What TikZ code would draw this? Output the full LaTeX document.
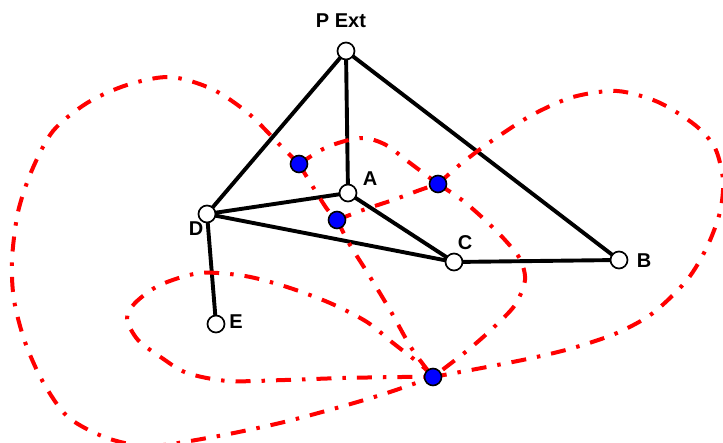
\documentclass[tikz,border=0pt]{standalone}
\usepackage{fontspec}
\setmainfont{Liberation Sans}
\pgfdeclarelayer{bg}
\pgfsetlayers{bg,main}
\begin{document}
\begin{tikzpicture}[x=1pt,y=-1pt,
  vtx/.style={circle,draw=black,fill=white,line width=1.7pt,minimum size=17pt,inner sep=0pt},
  dualv/.style={circle,draw=black,fill=blue,line width=1.6pt,minimum size=17pt,inner sep=0pt},
  lab/.style={font=\bfseries\fontsize{20}{22}\selectfont,inner sep=0pt},
  edge/.style={line width=3.9pt,black},
  dual/.style={line width=4pt,red,dash pattern=on 15pt off 11pt on 3.5pt off 11pt}]
\useasboundingbox (0,0) rectangle (723,443);

% primal vertices
\node[vtx] (P) at (346,51) {};
\node[vtx] (A) at (348,193) {};
\node[vtx] (D) at (207,214) {};
\node[vtx] (C) at (454,262) {};
\node[vtx] (B) at (619,260) {};
\node[vtx] (E) at (216,324) {};

% labels
\node[lab] (lP) at (341,21) {P Ext};
\node[lab] (lA) at (370,179) {A};
\node[lab] (lD) at (196,229) {D};
\node[lab] (lC) at (465,243) {C};
\node[lab] (lB) at (644,261) {B};
\node[lab] (lE) at (236,322) {E};

% dual vertices
\node[dualv] (f1) at (299,164) {};
\node[dualv] (f2) at (438,184) {};
\node[dualv] (f3) at (337,220) {};
\node[dualv] (f4) at (433,377) {};

\begin{pgfonlayer}{bg}
% primal edges
\draw[edge] (P.center) -- (D.center);
\draw[edge] (P.center) -- (A.center);
\draw[edge] (P.center) -- (B.center);
\draw[edge] (A.center) -- (D.center);
\draw[edge] (A.center) -- (C.center);
\draw[edge] (D.center) -- (C.center);
\draw[edge] (C.center) -- (B.center);
\draw[edge] (D.center) -- (E.center);

% dual edges
% across P-D
\draw[dual] plot[smooth] coordinates {(f1.center) (279,144) (248,113) (212,89) (170,77) (127,85) (87,103) (53,131) (32,170) (18,212) (12,260) (14,300) (25,342) (43,382) (68,417) (107,438) (150,446) (213,437) (280,423) (340,407) (387,393) (f4.center)};
% across P-A
\draw[dual] plot[smooth] coordinates {(f1.center) (323,149) (345,141) (365,138) (386,145) (410,163) (f2.center)};
% across C-B
\draw[dual] plot[smooth] coordinates {(f2.center) (462,200) (485,220) (505,240) (520,259) (525,280) (515,305) (493,328) (468,350) (f4.center)};
% across D-A
\draw[dual] plot[smooth] coordinates {(f1.center) (313,187) (327,209) (f3.center)};
% across C-D
\draw[dual] plot[smooth] coordinates {(f3.center) (350,245) (367,272) (390,310) (412,349) (f4.center)};
% across A-C
\draw[dual] plot[smooth] coordinates {(f3.center) (363,210) (393,200) (420,190) (f2.center)};
% across P-B
\draw[dual] plot[smooth] coordinates {(f2.center) (462,163) (493,140) (532,115) (573,97) (617,91) (658,102) (695,125) (715,148) (723,180) (720,212) (707,247) (687,280) (653,313) (617,333) (573,348) (532,358) (487,367) (f4.center)};
% across D-E (loop)
\draw[dual] plot[smooth] coordinates {(f4.center) (420,364) (393,343) (367,322) (330,303) (287,287) (245,276) (200,273) (160,285) (135,303) (127,319) (138,340) (162,358) (187,373) (228,381) (285,380) (343,378) (402,377) (f4.center)};
\end{pgfonlayer}
\end{tikzpicture}
\end{document}
